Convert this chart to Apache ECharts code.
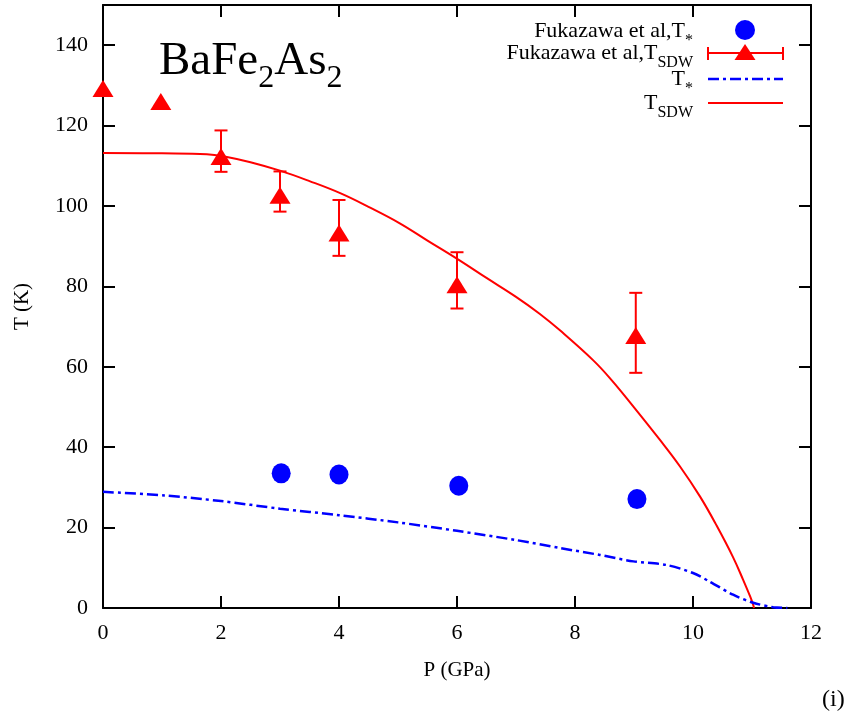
<!DOCTYPE html>
<html><head><meta charset="utf-8">
<script src="https://cdn.jsdelivr.net/npm/echarts@6/dist/echarts.min.js"></script>
<style>html,body{margin:0;padding:0;background:#fff}#c{width:856px;height:723px}</style>
</head><body><div id="c"></div>
<script>
// Fukazawa et al, T_SDW (triangles with error bars)
const sdwP = [0, 0.98, 2, 3, 4, 6, 9.03];
const sdwT = [129.2, 126, 112.3, 102.7, 93.3, 80.4, 67.8];
const sdwLow = [null, null, 108.5, 98.6, 87.6, 74.5, 58.5];
const sdwHigh = [null, null, 118.8, 108.6, 101.5, 88.5, 78.4];
// Fukazawa et al, T*
const starP = [3.02, 4.0, 6.03, 9.05];
const starT = [33.5, 33.2, 30.4, 27.1];
// Theory T* curve
const curveStarP = [0, 1.04, 2, 3, 4, 5, 6, 7, 7.75, 8.42, 8.99, 9.55, 10, 10.29, 10.68, 11.02, 11.36, 11.6];
const curveStarT = [28.9, 28.0, 26.6, 24.7, 23.1, 21.3, 19.2, 16.9, 14.9, 13.2, 11.6, 10.7, 8.7, 6.5, 3.3, 1.3, 0.2, 0];
// Theory T_SDW curve
const curveSdwP = [0, 1, 1.76, 2.1, 2.5, 3, 3.5, 4.02, 4.5, 5.03, 5.5, 6.03, 6.5, 7, 7.4, 7.75, 8.31, 8.62, 8.99, 9.44, 9.78, 10.12, 10.4, 10.68, 10.85, 10.97, 11.015, 11.035];
const curveSdwT = [113.2, 113.1, 112.9, 112.2, 110.9, 108.8, 106.2, 103.2, 99.8, 95.7, 91.4, 86.6, 82.1, 77.4, 73.2, 69.0, 61.6, 56.7, 50.1, 41.8, 35.2, 27.7, 20.5, 12.6, 7.0, 2.8, 1.0, 0];
const xTicks = [0, 2, 4, 6, 8, 10, 12];
const yTicks = [0, 20, 40, 60, 80, 100, 120, 140];

const FONT = 'Liberation Serif';
const RED = '#ff0000', BLUE = '#0000ff';

const chart = echarts.init(document.getElementById('c'), null, {renderer: 'canvas'});

const sdwPts = sdwP.map((p, i) => [p, sdwT[i]]);
const errPts = sdwP.map((p, i) => [p, sdwLow[i], sdwHigh[i]]).filter(d => d[1] != null);

function axisCommon() {
  return {
    axisLine: {show: true, onZero: false, lineStyle: {color: '#000', width: 2}},
    axisTick: {show: true, inside: true, length: 12, lineStyle: {color: '#000', width: 2}},
    splitLine: {show: false}
  };
}

const legendSub = {fontFamily: FONT, fontSize: 16, fill: '#000', padding: [20, 0, 0, 0]};
function legendText(str, top) {
  return {type: 'text', right: 856 - 693, top: top, style: {text: str, fill: '#000', fontFamily: FONT, fontSize: 22,
    rich: {s: legendSub}}};
}

const option = {
  animation: false,
  backgroundColor: '#fff',
  grid: {left: 103, right: 45, top: 5, bottom: 115, containLabel: false},
  xAxis: [
    Object.assign({type: 'value', min: 0, max: 12, interval: 2, position: 'bottom',
      name: 'P (GPa)', nameLocation: 'middle', nameGap: 52,
      nameTextStyle: {fontFamily: FONT, fontSize: 21, color: '#000'},
      axisLabel: {fontFamily: FONT, fontSize: 22, color: '#000', margin: 14,
        formatter: v => xTicks.includes(v) ? String(v) : ''}}, axisCommon()),
    Object.assign({type: 'value', min: 0, max: 12, interval: 2, position: 'top',
      axisLabel: {show: false}}, axisCommon())
  ],
  yAxis: [
    Object.assign({type: 'value', min: 0, max: 150, interval: 20, position: 'left',
      name: 'T (K)', nameLocation: 'middle', nameGap: 70, nameRotate: 90,
      nameTextStyle: {fontFamily: FONT, fontSize: 21, color: '#000'},
      axisLabel: {fontFamily: FONT, fontSize: 22, color: '#000', margin: 15,
        formatter: v => yTicks.includes(v) ? String(v) : ''}}, axisCommon()),
    Object.assign({type: 'value', min: 0, max: 150, interval: 20, position: 'right',
      axisLabel: {show: false}}, axisCommon())
  ],
  series: [
    {
      type: 'line', name: 'T_SDW', data: curveSdwP.map((p, i) => [p, curveSdwT[i]]),
      showSymbol: false, symbol: 'none', smooth: 0.4,
      lineStyle: {color: RED, width: 2}, z: 2
    },
    {
      type: 'line', name: 'T*', data: curveStarP.map((p, i) => [p, curveStarT[i]]),
      showSymbol: false, symbol: 'none', smooth: 0.3,
      lineStyle: {color: BLUE, width: 2.5, type: [11, 4, 3, 4]}, z: 2
    },
    {
      type: 'custom', name: 'errbar', data: errPts,
      renderItem: function (params, api) {
        const x = api.value(0);
        const lo = api.coord([x, api.value(1)]);
        const hi = api.coord([x, api.value(2)]);
        const hw = 6.5;
        const st = {stroke: RED, lineWidth: 2};
        return {type: 'group', children: [
          {type: 'line', shape: {x1: lo[0], y1: lo[1], x2: hi[0], y2: hi[1]}, style: st},
          {type: 'line', shape: {x1: lo[0] - hw, y1: lo[1], x2: lo[0] + hw, y2: lo[1]}, style: st},
          {type: 'line', shape: {x1: hi[0] - hw, y1: hi[1], x2: hi[0] + hw, y2: hi[1]}, style: st}
        ]};
      },
      z: 3
    },
    {
      type: 'scatter', name: 'Fukazawa SDW', data: sdwPts, symbol: 'triangle',
      symbolSize: [21, 17], itemStyle: {color: RED, opacity: 1}, z: 4
    },
    {
      type: 'scatter', name: 'Fukazawa T*', data: starP.map((p, i) => [p, starT[i]]),
      symbol: 'circle', symbolSize: [19, 20], itemStyle: {color: BLUE, opacity: 1}, z: 4
    }
  ],
  graphic: [
    {type: 'text', left: 159, top: 38, style: {
      text: 'BaFe{s|2}As{s|2}', fill: '#000',
      rich: {
        s: {fontFamily: FONT, fontSize: 32, fill: '#000', padding: [34, 0, 0, 0]}
      },
      fontFamily: FONT, fontSize: 47
    }},
    // legend
    legendText('Fukazawa et al,T{s|*}', 20),
    {type: 'circle', shape: {cx: 745, cy: 30, r: 10}, style: {fill: BLUE}},
    legendText('Fukazawa et al,T{s|SDW}', 42),
    {type: 'line', shape: {x1: 708, y1: 53, x2: 783, y2: 53}, style: {stroke: RED, lineWidth: 2}},
    {type: 'line', shape: {x1: 708, y1: 47, x2: 708, y2: 60}, style: {stroke: RED, lineWidth: 2}},
    {type: 'line', shape: {x1: 783, y1: 47, x2: 783, y2: 60}, style: {stroke: RED, lineWidth: 2}},
    {type: 'polygon', shape: {points: [[745, 44], [734.5, 60], [755.5, 60]]}, style: {fill: RED}},
    legendText('T{s|*}', 68),
    {type: 'line', shape: {x1: 708, y1: 79, x2: 783, y2: 79}, style: {stroke: BLUE, lineWidth: 2.5, lineDash: [11, 4, 3, 4]}},
    legendText('T{s|SDW}', 92),
    {type: 'line', shape: {x1: 708, y1: 103, x2: 783, y2: 103}, style: {stroke: RED, lineWidth: 2}},
    {type: 'text', left: 822, top: 688, style: {text: '(i)', fill: '#000', fontFamily: FONT, fontSize: 24}}
  ]
};
chart.setOption(option);
</script>
</body></html>
